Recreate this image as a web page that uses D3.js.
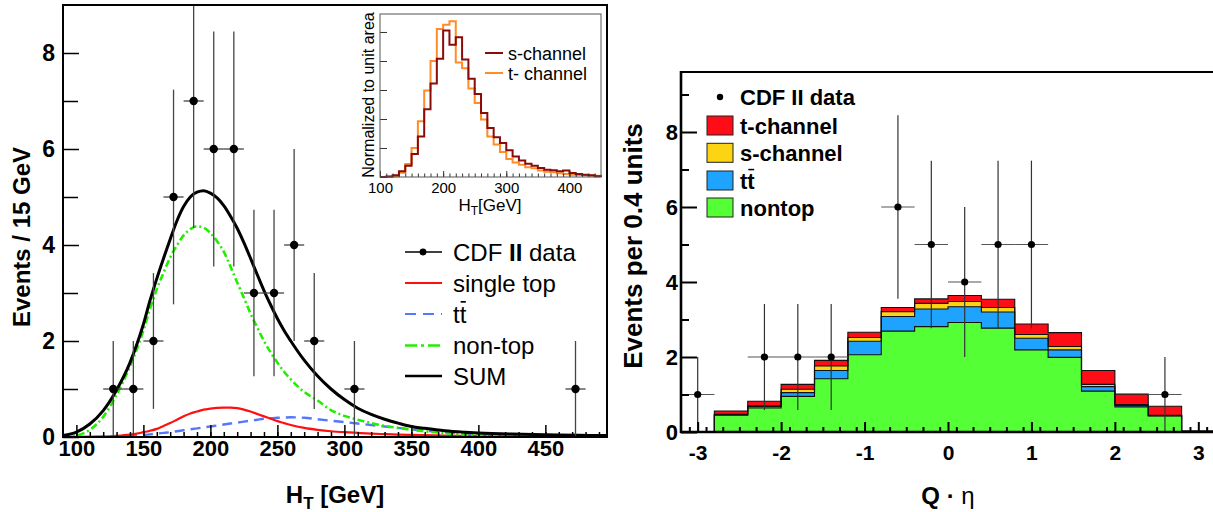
<!DOCTYPE html>
<html><head><meta charset="utf-8">
<script src="https://cdn.jsdelivr.net/npm/d3@7"></script>
<style>
body{margin:0;background:#fff}
svg{display:block}
text{font-family:"Liberation Sans",Arial,Helvetica,sans-serif}
</style>
</head><body>
<svg id="c" width="1213" height="512"></svg>
<script>
// ---------------- LEFT PANEL DATA (H_T) ----------------
const curveHT = [90,100,110,120,130,140,145,150,155,160,165,170,175,180,185,190,195,200,205,210,215,220,225,230,235,240,245,250,255,260,270,280,290,300,310,320,330,340,350,360,375,390,400,425,450,475,496];
const sumCurve = [0.03,0.1,0.27,0.55,0.98,1.55,1.92,2.35,2.85,3.3,3.72,4.12,4.5,4.8,5.0,5.1,5.13,5.08,4.98,4.82,4.6,4.35,4.05,3.72,3.38,3.05,2.75,2.47,2.22,2.0,1.6,1.27,1.0,0.78,0.6,0.47,0.37,0.29,0.22,0.18,0.13,0.1,0.085,0.06,0.045,0.035,0.03];
const nonTopCurve = [0.0,0.03,0.15,0.42,0.88,1.47,1.82,2.22,2.68,3.08,3.42,3.74,3.99,4.2,4.33,4.39,4.36,4.25,4.08,3.86,3.55,3.22,2.9,2.57,2.28,2.0,1.76,1.55,1.36,1.2,0.94,0.76,0.56,0.44,0.36,0.29,0.23,0.19,0.15,0.12,0.08,0.05,0.04,0.02,0.01,0.006,0.004];
const singleTopCurve = [0,0.002,0.005,0.01,0.025,0.05,0.07,0.1,0.13,0.17,0.23,0.29,0.36,0.43,0.49,0.53,0.57,0.59,0.605,0.61,0.61,0.6,0.57,0.53,0.48,0.43,0.38,0.33,0.29,0.25,0.19,0.15,0.12,0.1,0.085,0.07,0.06,0.05,0.045,0.04,0.03,0.025,0.02,0.015,0.01,0.007,0.005];
const ttbarCurve = [0,0,0.002,0.005,0.01,0.02,0.03,0.04,0.055,0.07,0.085,0.1,0.12,0.14,0.16,0.18,0.2,0.22,0.24,0.26,0.28,0.3,0.32,0.34,0.36,0.38,0.39,0.4,0.405,0.41,0.4,0.37,0.34,0.31,0.28,0.25,0.22,0.19,0.16,0.13,0.1,0.075,0.06,0.04,0.025,0.015,0.01];
const dataHT = [127.5,142.5,157.5,172.5,187.5,202.5,217.5,232.5,247.5,262.5,277.5,307.5,472.5];
const dataHTCounts = [1,1,2,5,7,6,6,3,3,4,2,1,1];
const htTickLabels = [100,150,200,250,300,350,400,450];
const htYTicks = [0,2,4,6,8];
const leftLegend = ["CDF II data","single top","tt","non-top","SUM"];

// ---------------- INSET DATA ----------------
const insetBinStart = 100, insetBinWidth = 10;
const sChannelHist = [0,0.02,0.06,0.2,0.39,0.79,1.4,2.34,3.22,4.08,5.05,4.56,4.82,4.05,3.39,2.86,2.21,1.69,1.37,1.17,0.92,0.71,0.57,0.46,0.39,0.31,0.25,0.23,0.2,0.22,0.14,0.1,0.08,0.06,0.03];
const tChannelHist = [0,0.01,0.03,0.15,0.45,1.0,1.92,2.98,4.0,5.1,5.25,5.37,3.95,3.75,3.05,2.55,1.98,1.4,1.12,0.86,0.62,0.5,0.42,0.34,0.3,0.22,0.18,0.16,0.13,0.1,0.08,0.07,0.06,0.05,0.04];
const insetTickLabels = [100,200,300,400];

// ---------------- RIGHT PANEL DATA (Q*eta) ----------------
const qEtaEdgesStart = -3.2, qEtaBinWidth = 0.4;
const nontopBins   = [0,0.45,0.64,0.95,1.42,2.06,2.69,2.81,2.92,2.77,2.19,1.99,1.09,0.67,0.43,0];
const ttbarBins    = [0,0.01,0.04,0.10,0.22,0.36,0.39,0.47,0.42,0.43,0.31,0.20,0.12,0.04,0.005,0];
const sChannelBins = [0,0.01,0.02,0.09,0.12,0.10,0.13,0.15,0.14,0.12,0.10,0.09,0.06,0.02,0.01,0];
const tChannelBins = [0,0.09,0.12,0.13,0.15,0.14,0.11,0.12,0.16,0.22,0.28,0.37,0.37,0.28,0.24,0.03];
const qEtaData = [-3.0,-2.2,-1.8,-1.4,-0.6,-0.2,0.2,0.6,1.0,2.6];
const qEtaCounts = [1,2,2,2,6,5,4,5,5,1];
const qEtaTickLabels = [-3,-2,-1,0,1,2,3];
const qEtaYTicks = [0,2,4,6,8];
const rightLegend = ["t-channel","s-channel","tt","nontop"];
const rightColors = ["#ff0d17","#fcd413","#1ea4ff","#55ff36"];

// =====================================================
const svg = d3.select("#c");
const FONT = '"Liberation Sans",Arial,Helvetica,sans-serif';

// ---------- Left scales ----------
const xL = d3.scaleLinear().domain([90,496]).range([63,607]);
const yL = d3.scaleLinear().domain([0,9]).range([437,5]);

const defs = svg.append("defs");
defs.append("clipPath").attr("id","clipL").append("rect")
  .attr("x",63).attr("y",5).attr("width",544).attr("height",432);
defs.append("clipPath").attr("id","clipR").append("rect")
  .attr("x",681).attr("y",72).attr("width",540).attr("height",360);

const gL = svg.append("g");
const curves = gL.append("g").attr("clip-path","url(#clipL)");
const mkLine = d3.line().x(d=>xL(d[0])).y(d=>yL(d[1])).curve(d3.curveMonotoneX);
const pts = v => curveHT.map((h,i)=>[h,v[i]]);
curves.append("path").attr("d",mkLine(pts(ttbarCurve))).attr("fill","none")
  .attr("stroke","#5577ff").attr("stroke-width",2.4).attr("stroke-dasharray","10,6");
curves.append("path").attr("d",mkLine(pts(singleTopCurve))).attr("fill","none")
  .attr("stroke","#ff1010").attr("stroke-width",2.2);
curves.append("path").attr("d",mkLine(pts(nonTopCurve))).attr("fill","none")
  .attr("stroke","#22ee00").attr("stroke-width",2.6).attr("stroke-dasharray","7,3,2,3");
curves.append("path").attr("d",mkLine(pts(sumCurve))).attr("fill","none")
  .attr("stroke","#000").attr("stroke-width",3);

// data points left
const dL = curves.append("g");
dataHT.forEach((h,i)=>{
  const n = dataHTCounts[i], e = Math.sqrt(n);
  dL.append("line").attr("x1",xL(h)).attr("x2",xL(h)).attr("y1",yL(Math.max(0,n-e))).attr("y2",yL(n+e))
    .attr("stroke","#444").attr("stroke-width",1.3);
  dL.append("line").attr("x1",xL(h-7.5)).attr("x2",xL(h+7.5)).attr("y1",yL(n)).attr("y2",yL(n))
    .attr("stroke","#444").attr("stroke-width",1.3);
  dL.append("circle").attr("cx",xL(h)).attr("cy",yL(n)).attr("r",4.2).attr("fill","#000");
});

// left axes
const axLx = gL.append("g").attr("transform","translate(0,437)");
axLx.call(d3.axisBottom(xL).tickValues(d3.range(100,496,10)).tickSize(-5).tickFormat(""));
axLx.call(g=>g.select(".domain").remove());
const axLx2 = gL.append("g").attr("transform","translate(0,437)");
axLx2.call(d3.axisBottom(xL).tickValues(htTickLabels).tickSize(-12).tickPadding(3).tickFormat(d3.format("d")));
axLx2.select(".domain").remove();
axLx2.selectAll("text").attr("font-size",22).attr("font-weight","bold").attr("font-family",FONT).attr("fill","#000");
gL.selectAll(".tick line").attr("stroke","#000").attr("stroke-width",1.5);

const axLy = gL.append("g").attr("transform","translate(63,0)");
axLy.call(d3.axisLeft(yL).tickValues([1,3,5,7]).tickSize(-15).tickFormat(""));
axLy.select(".domain").remove();
const axLy2 = gL.append("g").attr("transform","translate(63,0)");
axLy2.call(d3.axisLeft(yL).tickValues(htYTicks).tickSize(-16).tickPadding(8).tickFormat(d3.format("d")));
axLy2.select(".domain").remove();
axLy2.selectAll("text").attr("font-size",23).attr("font-weight","bold").attr("font-family",FONT).attr("fill","#000");
gL.selectAll(".tick line").attr("stroke","#000").attr("stroke-width",1.5);

gL.append("rect").attr("x",63).attr("y",5).attr("width",544).attr("height",432)
  .attr("fill","none").attr("stroke","#000").attr("stroke-width",2);

// left titles
gL.append("text").attr("transform","translate(21,237) rotate(-90)")
  .attr("text-anchor","middle").attr("dominant-baseline","central")
  .attr("font-size",24).attr("font-weight","bold").text("Events / 15 GeV");
const lxt = gL.append("text").attr("x",335).attr("y",503).attr("text-anchor","middle")
  .attr("font-size",24).attr("font-weight","bold");
lxt.append("tspan").text("H");
lxt.append("tspan").attr("font-size",17).attr("dy",6).text("T");
lxt.append("tspan").attr("dy",-6).text(" [GeV]");

// left legend
const legY = [252,283,314,345.5,376];
const lg = gL.append("g");
// CDF data
lg.append("line").attr("x1",405).attr("x2",442).attr("y1",legY[0]).attr("y2",legY[0]).attr("stroke","#000").attr("stroke-width",1.3);
lg.append("circle").attr("cx",423).attr("cy",legY[0]).attr("r",3.4).attr("fill","#000");
lg.append("line").attr("x1",405).attr("x2",442).attr("y1",legY[1]).attr("y2",legY[1]).attr("stroke","#ff1010").attr("stroke-width",2);
lg.append("line").attr("x1",405).attr("x2",442).attr("y1",legY[2]).attr("y2",legY[2]).attr("stroke","#5577ff").attr("stroke-width",2).attr("stroke-dasharray","11,7");
lg.append("line").attr("x1",405).attr("x2",442).attr("y1",legY[3]).attr("y2",legY[3]).attr("stroke","#22ee00").attr("stroke-width",2.4).attr("stroke-dasharray","12,4,3,4");
lg.append("line").attr("x1",405).attr("x2",442).attr("y1",legY[4]).attr("y2",legY[4]).attr("stroke","#000").attr("stroke-width",2.6);
const lt0 = lg.append("text").attr("x",453).attr("y",legY[0]+8.5).attr("font-size",24);
lt0.append("tspan").text("CDF ");
lt0.append("tspan").attr("font-weight","bold").text("II");
lt0.append("tspan").text(" data");
lg.append("text").attr("x",453).attr("y",legY[1]+8.5).attr("font-size",24).text(leftLegend[1]);
const ttL = lg.append("text").attr("x",453).attr("y",legY[2]+8.5).attr("font-size",24).text(leftLegend[2]);
lg.append("text").attr("x",453).attr("y",legY[3]+8.5).attr("font-size",24).text(leftLegend[3]);
lg.append("text").attr("x",453).attr("y",legY[4]+8.5).attr("font-size",24).text(leftLegend[4]);

function overline(textSel, size){
  const node = textSel.node();
  const r = node.getExtentOfChar(1);
  const base = +textSel.attr("y");
  textSel.select(function(){return this.parentNode;}).append("line")
    .attr("x1",r.x+1).attr("x2",r.x+r.width-0.5)
    .attr("y1",base-0.86*size).attr("y2",base-0.86*size)
    .attr("stroke","#000").attr("stroke-width",size*0.07);
}
overline(ttL,24);

// ---------- INSET ----------
const xI = d3.scaleLinear().domain([100,450]).range([380,601]);
const yI = d3.scaleLinear().domain([0,5.62]).range([177,14]);
const gI = svg.append("g");
gI.append("rect").attr("x",380).attr("y",14).attr("width",221).attr("height",163).attr("fill","#fff");
function stepPts(vals){
  const p=[[insetBinStart,0]];
  vals.forEach((v,i)=>{const a=insetBinStart+i*insetBinWidth; p.push([a,v]); p.push([a+insetBinWidth,v]);});
  p.push([insetBinStart+vals.length*insetBinWidth,0]);
  return p;
}
const iLine = d3.line().x(d=>xI(d[0])).y(d=>yI(d[1]));
gI.append("path").attr("d",iLine(stepPts(tChannelHist))).attr("fill","none").attr("stroke","#ff8c26").attr("stroke-width",2);
gI.append("path").attr("d",iLine(stepPts(sChannelHist))).attr("fill","none").attr("stroke","#8b0a0a").attr("stroke-width",2);

const axIx = gI.append("g").attr("transform","translate(0,177)");
axIx.call(d3.axisBottom(xI).tickValues(d3.range(110,450,10)).tickSize(-3.5).tickFormat(""));
axIx.select(".domain").remove();
const axIx2 = gI.append("g").attr("transform","translate(0,177)");
axIx2.call(d3.axisBottom(xI).tickValues(insetTickLabels).tickSize(-6).tickPadding(5).tickFormat(d3.format("d")));
axIx2.select(".domain").remove();
axIx2.selectAll("text").attr("font-size",15).attr("font-family",FONT).attr("fill","#000");
const axIy = gI.append("g").attr("transform","translate(380,0)");
axIy.call(d3.axisLeft(yI).tickValues([1,2,3,4,5]).tickSize(-7).tickFormat(""));
axIy.select(".domain").remove();
gI.selectAll(".tick line").attr("stroke","#333").attr("stroke-width",1);
gI.append("rect").attr("x",380).attr("y",14).attr("width",221).attr("height",163)
  .attr("fill","none").attr("stroke","#555").attr("stroke-width",1);
gI.append("text").attr("transform","translate(368,95) rotate(-90)").attr("text-anchor","middle")
  .attr("dominant-baseline","central").attr("font-size",16).text("Normalized to unit area");
const ixt = gI.append("text").attr("x",490).attr("y",211).attr("text-anchor","middle").attr("font-size",17);
ixt.append("tspan").text("H");
ixt.append("tspan").attr("font-size",12).attr("dy",4).text("T");
ixt.append("tspan").attr("dy",-4).text("[GeV]");
gI.append("line").attr("x1",485).attr("x2",503).attr("y1",53).attr("y2",53).attr("stroke","#8b0a0a").attr("stroke-width",2);
gI.append("line").attr("x1",485).attr("x2",503).attr("y1",73).attr("y2",73).attr("stroke","#ff8c26").attr("stroke-width",2);
gI.append("text").attr("x",508).attr("y",59.5).attr("font-size",18).text("s-channel");
gI.append("text").attr("x",508).attr("y",79.5).attr("font-size",18).text("t- channel");

// ---------- RIGHT PANEL ----------
const xR = d3.scaleLinear().domain([-3.2,3.2]).range([681,1215]);
const yR = d3.scaleLinear().domain([0,9.6]).range([432,72]);
const gR = svg.append("g");
const bars = gR.append("g").attr("clip-path","url(#clipR)");
const layers = [nontopBins, ttbarBins, sChannelBins, tChannelBins];
const cum = [];
layers.forEach((l,k)=>{ cum.push(l.map((v,i)=> v + (k? cum[k-1][i] : 0))); });
function stepR(vals){
  const p=[[qEtaEdgesStart,0]];
  vals.forEach((v,i)=>{const a=qEtaEdgesStart+i*qEtaBinWidth; p.push([a,v]); p.push([a+qEtaBinWidth,v]);});
  p.push([qEtaEdgesStart+vals.length*qEtaBinWidth,0]);
  return p;
}
const rArea = d3.area().x(d=>xR(d[0])).y0(yR(0)).y1(d=>yR(d[1]));
const rLine = d3.line().x(d=>xR(d[0])).y(d=>yR(d[1]));
const fillCols = [rightColors[3],rightColors[2],rightColors[1],rightColors[0]];
for(let k=3;k>=0;k--){
  bars.append("path").attr("d",rArea(stepR(cum[k]))).attr("fill",fillCols[k]);
}
for(let k=3;k>=0;k--){
  bars.append("path").attr("d",rLine(stepR(cum[k]))).attr("fill","none").attr("stroke","#111").attr("stroke-width",1.1);
}
// right data
qEtaData.forEach((q,i)=>{
  const n=qEtaCounts[i], e=Math.sqrt(n);
  bars.append("line").attr("x1",xR(q)).attr("x2",xR(q)).attr("y1",yR(Math.max(0,n-e))).attr("y2",yR(n+e))
    .attr("stroke","#333").attr("stroke-width",1.2);
  bars.append("line").attr("x1",xR(q-0.2)).attr("x2",xR(q+0.2)).attr("y1",yR(n)).attr("y2",yR(n))
    .attr("stroke","#555").attr("stroke-width",1.2);
  bars.append("circle").attr("cx",xR(q)).attr("cy",yR(n)).attr("r",3.6).attr("fill","#000");
});
// right axes
const axRx = gR.append("g").attr("transform","translate(0,432)");
axRx.call(d3.axisBottom(xR).tickValues(d3.range(-31,32,2).map(v=>v/10)).tickSize(-5).tickFormat(""));
axRx.select(".domain").remove();
const axRx2 = gR.append("g").attr("transform","translate(0,432)");
axRx2.call(d3.axisBottom(xR).tickValues(qEtaTickLabels).tickSize(-10).tickPadding(13).tickFormat(d=>String(d)));
axRx2.select(".domain").remove();
axRx2.selectAll("text").attr("font-size",21).attr("font-weight","bold").attr("font-family",FONT).attr("fill","#000");
const axRy = gR.append("g").attr("transform","translate(681,0)");
axRy.call(d3.axisLeft(yR).tickValues([1,3,5,7,9]).tickSize(-8).tickFormat(""));
axRy.select(".domain").remove();
const axRy2 = gR.append("g").attr("transform","translate(681,0)");
axRy2.call(d3.axisLeft(yR).tickValues(qEtaYTicks).tickSize(-16).tickPadding(3).tickFormat(d3.format("d")));
axRy2.select(".domain").remove();
axRy2.selectAll("text").attr("font-size",22).attr("font-weight","bold").attr("font-family",FONT).attr("fill","#000");
gR.selectAll(".tick line").attr("stroke","#000").attr("stroke-width",2);
gR.append("line").attr("x1",681).attr("x2",1213).attr("y1",72).attr("y2",72).attr("stroke","#000").attr("stroke-width",2.2);
gR.append("line").attr("x1",681).attr("x2",681).attr("y1",71).attr("y2",433).attr("stroke","#000").attr("stroke-width",2.6);
gR.append("line").attr("x1",680).attr("x2",1213).attr("y1",432).attr("y2",432).attr("stroke","#000").attr("stroke-width",2.6);

// right titles
gR.append("text").attr("transform","translate(633,246) rotate(-90)").attr("text-anchor","middle")
  .attr("dominant-baseline","central").attr("font-size",26).attr("font-weight","bold").text("Events per 0.4 units");
const rxt = gR.append("text").attr("x",948).attr("y",504).attr("text-anchor","middle").attr("font-size",24);
rxt.append("tspan").attr("font-weight","bold").text("Q");
rxt.append("tspan").attr("font-weight","bold").text(" · ");
rxt.append("tspan").text("η");

// right legend
gR.append("circle").attr("cx",720).attr("cy",97).attr("r",3.2).attr("fill","#000");
gR.append("text").attr("x",740).attr("y",105).attr("font-size",22).attr("font-weight","bold").text("CDF II data");
const boxY = [125.5,152.8,180.5,207.5];
rightLegend.forEach((name,i)=>{
  gR.append("rect").attr("x",707).attr("y",boxY[i]-9.5).attr("width",26).attr("height",19)
    .attr("fill",rightColors[i]).attr("stroke","#222").attr("stroke-width",1);
  const t = gR.append("text").attr("x",740).attr("y",boxY[i]+8).attr("font-size",22).attr("font-weight","bold").text(name);
  if(name==="tt") overline(t,22);
});
</script>
</body></html>
